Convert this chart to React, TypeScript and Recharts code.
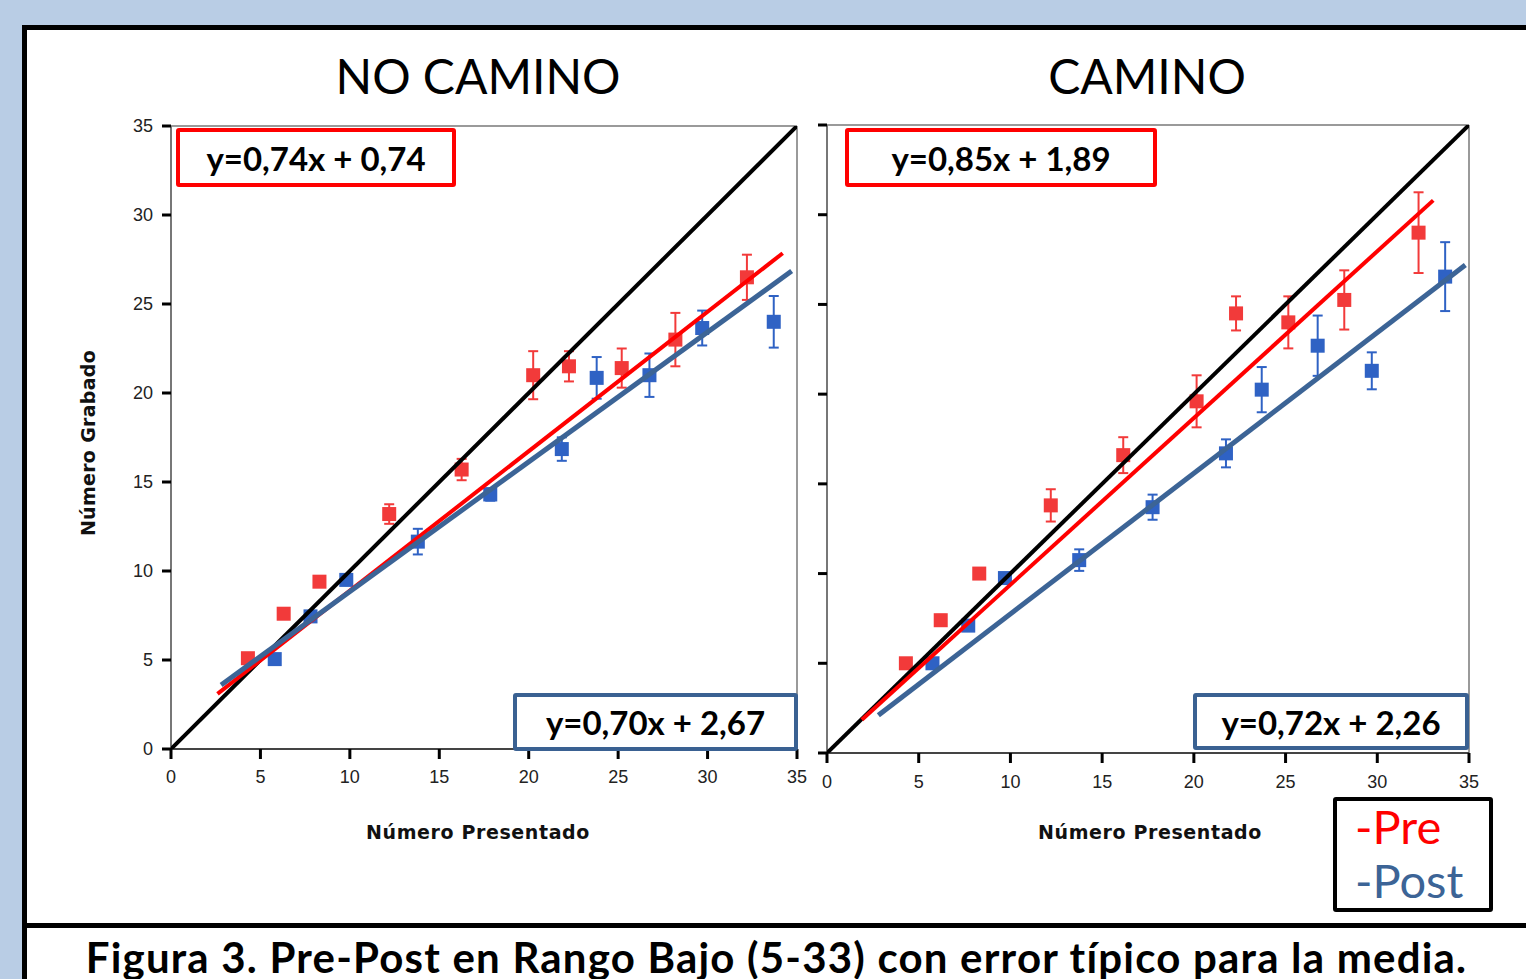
import React from 'react';
import { ScatterChart, Scatter, XAxis, YAxis, ErrorBar, ReferenceLine } from 'recharts';

// ---------- data ----------
const axisTicks = [0, 5, 10, 15, 20, 25, 30, 35];

const leftPreX = [4.3, 6.3, 8.3, 12.2, 16.25, 20.25, 22.25, 25.2, 28.2, 32.2];
const leftPreY = [5.1, 7.6, 9.4, 13.2, 15.7, 21.0, 21.5, 21.4, 23.0, 26.5];
const leftPreErr = [0.2, 0.2, 0.2, 0.55, 0.6, 1.35, 0.85, 1.1, 1.5, 1.27];

const leftPostX = [5.8, 7.8, 9.8, 13.8, 17.85, 21.85, 23.8, 26.75, 29.7, 33.7];
const leftPostY = [5.05, 7.45, 9.5, 11.65, 14.3, 16.85, 20.85, 21.0, 23.65, 24.0];
const leftPostErr = [0.2, 0.2, 0.2, 0.72, 0.35, 0.66, 1.17, 1.22, 0.98, 1.45];

const rightPreX = [4.3, 6.2, 8.3, 12.2, 16.15, 20.15, 22.3, 25.15, 28.2, 32.25];
const rightPreY = [5.0, 7.4, 10.0, 13.8, 16.6, 19.6, 24.5, 24.0, 25.25, 29.0];
const rightPreErr = [0.2, 0.3, 0.2, 0.9, 1.0, 1.45, 0.95, 1.45, 1.65, 2.25];

const rightPostX = [5.75, 7.7, 9.7, 13.75, 17.75, 21.75, 23.7, 26.75, 29.7, 33.7];
const rightPostY = [5.0, 7.1, 9.75, 10.75, 13.7, 16.7, 20.25, 22.7, 21.3, 26.55];
const rightPostErr = [0.2, 0.2, 0.2, 0.6, 0.7, 0.78, 1.26, 1.68, 1.03, 1.92];

// fitted line end points
const identityLine = [{ x: 0, y: 0 }, { x: 35, y: 35 }];
const leftPreLine = [{ x: 2.6, y: 3.1 }, { x: 34.2, y: 27.85 }];
const leftPostLine = [{ x: 2.8, y: 3.6 }, { x: 34.7, y: 26.85 }];
const rightPreLine = [{ x: 1.9, y: 1.85 }, { x: 33.05, y: 30.8 }];
const rightPostLine = [{ x: 2.8, y: 2.1 }, { x: 34.8, y: 27.2 }];

const titles = ['NO CAMINO', 'CAMINO'];
const equations = ['y=0,74x + 0,74', 'y=0,70x + 2,67', 'y=0,85x + 1,89', 'y=0,72x + 2,26'];
const xLabel = 'Número Presentado';
const yLabel = 'Número Grabado';
const caption = 'Figura 3. Pre-Post en Rango Bajo (5-33) con error típico para la media.';

// ---------- styling ----------
const RED_PT = '#f23a3a';
const RED_LINE = '#ff0000';
const BLUE_PT = '#2f62c4';
const BLUE_LINE = '#3c6496';
const BOX_BLUE = '#3a6192';
const tickFont = { fill: '#222', fontSize: 18, fontFamily: '"Liberation Sans Narrow", "Liberation Sans", Arial, sans-serif' };

const zip = (xs: number[], ys: number[], es: number[]) => xs.map((x, i) => ({ x, y: ys[i], e: es[i] }));

const square = (color: string) => (p: any) => (
  <rect x={p.cx - 7} y={p.cy - 7} width={14} height={14} fill={color} />
);
const nothing = () => <g />;

function Panel(props: {
  width: number; height: number; margin: any; yWidth: number; showYLabels: boolean; xTickMargin: number;
  pre: any[]; post: any[]; preLine: any[]; postLine: any[];
}) {
  const { width, height, margin, yWidth, showYLabels, xTickMargin, pre, post, preLine, postLine } = props;
  return (
    <ScatterChart width={width} height={height} margin={margin}>
      <XAxis type="number" dataKey="x" domain={[0, 35]} ticks={axisTicks} allowDataOverflow
        height={40} axisLine={{ stroke: '#444', strokeWidth: 2 }}
        tickLine={{ stroke: '#000', strokeWidth: 3 }} tickSize={10} tickMargin={xTickMargin} tick={tickFont} />
      <YAxis type="number" dataKey="y" domain={[0, 35]} ticks={axisTicks} allowDataOverflow
        width={yWidth} axisLine={{ stroke: '#777', strokeWidth: 2 }}
        tickLine={{ stroke: '#000', strokeWidth: 3 }} tickSize={9} tickMargin={9} tick={tickFont}
        tickFormatter={showYLabels ? undefined : () => ''} />
      <ReferenceLine y={35} stroke="#9a9a9a" strokeWidth={2} />
      <ReferenceLine x={35} stroke="#9a9a9a" strokeWidth={2} />
      <Scatter data={pre} shape={square(RED_PT)} isAnimationActive={false}>
        <ErrorBar dataKey="e" direction="y" width={5} stroke={RED_PT} strokeWidth={2} />
      </Scatter>
      <Scatter data={post} shape={square(BLUE_PT)} isAnimationActive={false}>
        <ErrorBar dataKey="e" direction="y" width={5} stroke={BLUE_PT} strokeWidth={2} />
      </Scatter>
      <Scatter data={identityLine} shape={nothing} line={{ stroke: '#000', strokeWidth: 4 }} isAnimationActive={false} />
      <Scatter data={preLine} shape={nothing} line={{ stroke: RED_LINE, strokeWidth: 4 }} isAnimationActive={false} />
      <Scatter data={postLine} shape={nothing} line={{ stroke: BLUE_LINE, strokeWidth: 5 }} isAnimationActive={false} />
    </ScatterChart>
  );
}

const abs = (left: number, top: number, extra: any = {}) => ({ position: 'absolute' as const, left, top, ...extra });

function EqBox(p: { left: number; top: number; w: number; h: number; color: string; text: string }) {
  return (
    <div style={abs(p.left, p.top, {
      width: p.w, height: p.h, boxSizing: 'border-box', border: `4px solid ${p.color}`, borderRadius: 3,
      background: '#fff', display: 'flex', alignItems: 'center', justifyContent: 'center',
      fontFamily: 'Lato, "Open Sans", sans-serif', fontWeight: 700, fontSize: 33, color: '#000',
    })}>{p.text}</div>
  );
}

const axisTitleStyle = {
  width: 300, textAlign: 'center' as const, fontFamily: '"DejaVu Sans", sans-serif', fontWeight: 700,
  fontSize: 19, letterSpacing: 0.6, lineHeight: '24px', color: '#111',
};

export default function App() {
  return (
    <div style={{ position: 'fixed', left: 0, top: 0, width: 1526, height: 979, overflow: 'hidden', background: '#b9cde5' }}>
      <div style={abs(22, 25, { width: 1600, height: 1000, borderLeft: '5px solid #000', borderTop: '5px solid #000', background: '#fff' })} />
      <div style={abs(22, 923, { width: 1504, height: 5, background: '#000' })} />

      {/* titles */}
      <div style={abs(278, 44, { width: 400, textAlign: 'center', fontFamily: 'Lato, sans-serif', fontWeight: 400, fontSize: 48, lineHeight: '64px', color: '#000' })}>{titles[0]}</div>
      <div style={abs(947, 44, { width: 400, textAlign: 'center', fontFamily: 'Lato, sans-serif', fontWeight: 400, fontSize: 48, lineHeight: '64px', color: '#000' })}>{titles[1]}</div>

      {/* charts */}
      <div style={abs(0, 0)}>
        <Panel width={810} height={800} margin={{ top: 126, right: 13, left: 131, bottom: 11 }} yWidth={40} showYLabels xTickMargin={11}
          pre={zip(leftPreX, leftPreY, leftPreErr)} post={zip(leftPostX, leftPostY, leftPostErr)}
          preLine={leftPreLine} postLine={leftPostLine} />
      </div>
      <div style={abs(800, 0)}>
        <Panel width={726} height={800} margin={{ top: 125, right: 57, left: 7, bottom: 7 }} yWidth={20} showYLabels={false} xTickMargin={12}
          pre={zip(rightPreX, rightPreY, rightPreErr)} post={zip(rightPostX, rightPostY, rightPostErr)}
          preLine={rightPreLine} postLine={rightPostLine} />
      </div>

      {/* axis titles */}
      <div style={abs(328, 820, axisTitleStyle)}>{xLabel}</div>
      <div style={abs(1000, 820, axisTitleStyle)}>{xLabel}</div>
      <div style={abs(-62, 431, { ...axisTitleStyle, letterSpacing: 0.3, transform: 'rotate(-90deg)' })}>{yLabel}</div>

      {/* equation boxes */}
      <EqBox left={176} top={128} w={280} h={59} color={RED_LINE} text={equations[0]} />
      <EqBox left={513} top={693} w={285} h={58} color={BOX_BLUE} text={equations[1]} />
      <EqBox left={845} top={128} w={312} h={59} color={RED_LINE} text={equations[2]} />
      <EqBox left={1193} top={693} w={276} h={57} color={BOX_BLUE} text={equations[3]} />

      {/* legend */}
      <div style={abs(1333, 797, { width: 160, height: 115, boxSizing: 'border-box', border: '4px solid #000', borderRadius: 3, background: '#fff' })}>
        <div style={{ position: 'absolute', left: 18, top: -3, fontFamily: 'Lato, sans-serif', fontSize: 47, lineHeight: '56px', color: '#ff0000' }}>-Pre</div>
        <div style={{ position: 'absolute', left: 18, top: 51, fontFamily: 'Lato, sans-serif', fontSize: 47, lineHeight: '56px', color: BLUE_LINE }}>-Post</div>
      </div>

      {/* caption */}
      <div style={abs(27, 933, { width: 1499, textAlign: 'center', fontFamily: 'Lato, sans-serif', fontWeight: 700, fontSize: 42, letterSpacing: 1.2, lineHeight: '48px', color: '#000', whiteSpace: 'nowrap' })}>{caption}</div>
    </div>
  );
}
